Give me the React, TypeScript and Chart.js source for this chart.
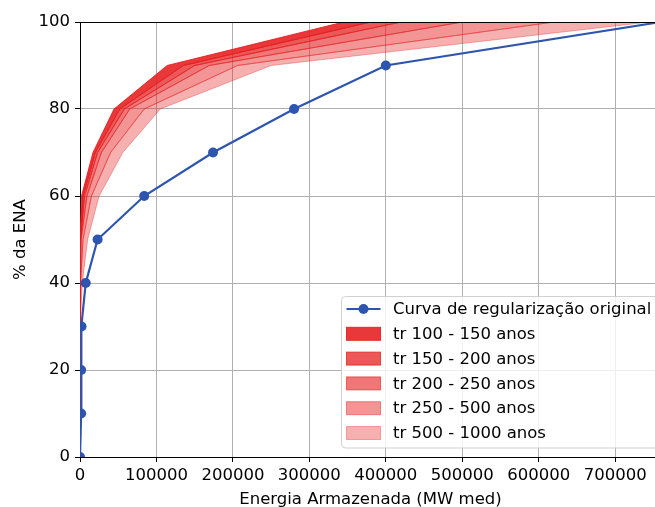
import React, { useEffect, useRef } from "react";
import { Chart, registerables } from "chart.js";

Chart.register(...registerables);

// % ENA levels (y) shared by every curve
const levels = [0, 10, 20, 30, 40, 50, 60, 70, 80, 90, 100];

// Energia armazenada (MW med) at each level
const originalCurveX = [0, 1500, 1500, 2000, 7500, 23000, 84000, 174000, 280000, 400000, 760000];
const tr100X = [0, 0, 0, 0, 0, 0, 2000, 17000, 44500, 114000, 345000];
const tr150X = [0, 0, 0, 0, 0, 500, 4000, 20000, 52000, 135000, 380000];
const tr200X = [0, 0, 0, 0, 0, 1000, 6000, 23000, 58000, 150000, 420000];
const tr250X = [0, 0, 0, 0, 0, 1500, 9000, 28000, 65000, 169000, 500000];
const tr500X = [0, 0, 0, 0, 1000, 4000, 15000, 40000, 84000, 206000, 620000];
const tr1000X = [0, 0, 0, 0, 3000, 10000, 25000, 56000, 105000, 250000, 745000];

const originalLabel = "Curva de regularização original";
const bandLabels = [
  "tr 100 - 150 anos",
  "tr 150 - 200 anos",
  "tr 200 - 250 anos",
  "tr 250 - 500 anos",
  "tr 500 - 1000 anos",
];
const bandCurves = [tr100X, tr150X, tr200X, tr250X, tr500X, tr1000X];
const bandAlphas = [0.88, 0.74, 0.6, 0.47, 0.35];

const xTickValues = [0, 100000, 200000, 300000, 400000, 500000, 600000, 700000];
const yTickValues = [0, 20, 40, 60, 80, 100];
const xMax = 760000;
const yMax = 100;
const xTitle = "Energia Armazenada (MW med)";
const yTitle = "% da ENA";

const BLUE = "rgb(45,85,175)";
const redA = (a: number) => `rgba(230,28,30,${a})`;
const FONT = "'DejaVu Sans', sans-serif";
const FS = 16.5;

const toPoints = (xs: number[]) => xs.map((x, i) => ({ x, y: levels[i] }));

const topSpine = {
  id: "topSpine",
  afterDatasetsDraw(chart: any) {
    const { ctx, chartArea } = chart;
    ctx.save();
    ctx.strokeStyle = "#000";
    ctx.lineWidth = 1;
    ctx.beginPath();
    ctx.moveTo(chartArea.left, chartArea.top + 0.5);
    ctx.lineTo(chartArea.right, chartArea.top + 0.5);
    ctx.stroke();
    ctx.restore();
  },
};

const boxLegend = {
  id: "boxLegend",
  afterDraw(chart: any) {
    const { ctx } = chart;
    const ds = chart.data.datasets;
    const x0 = 341.5;
    const y0 = 296.5;
    const w = 320;
    const h = 151.5;
    const r = 4;
    ctx.save();
    ctx.beginPath();
    ctx.moveTo(x0 + r, y0);
    ctx.lineTo(x0 + w - r, y0);
    ctx.quadraticCurveTo(x0 + w, y0, x0 + w, y0 + r);
    ctx.lineTo(x0 + w, y0 + h - r);
    ctx.quadraticCurveTo(x0 + w, y0 + h, x0 + w - r, y0 + h);
    ctx.lineTo(x0 + r, y0 + h);
    ctx.quadraticCurveTo(x0, y0 + h, x0, y0 + h - r);
    ctx.lineTo(x0, y0 + r);
    ctx.quadraticCurveTo(x0, y0, x0 + r, y0);
    ctx.closePath();
    ctx.fillStyle = "rgba(255,255,255,0.8)";
    ctx.fill();
    ctx.strokeStyle = "rgba(204,204,204,0.9)";
    ctx.lineWidth = 1;
    ctx.stroke();

    const rowY0 = 309;
    const rowGap = 24.8;
    const hx0 = 346.5;
    const hx1 = 380.5;
    const tx = 393;
    ctx.font = `${FS}px ${FONT}`;
    ctx.textBaseline = "middle";
    ctx.textAlign = "left";
    ds.forEach((d: any, i: number) => {
      const y = rowY0 + i * rowGap;
      if (i === 0) {
        ctx.strokeStyle = d.borderColor;
        ctx.lineWidth = 2.2;
        ctx.beginPath();
        ctx.moveTo(hx0, y);
        ctx.lineTo(hx1, y);
        ctx.stroke();
        ctx.fillStyle = d.pointBackgroundColor;
        ctx.beginPath();
        ctx.arc((hx0 + hx1) / 2, y, 5, 0, Math.PI * 2);
        ctx.fill();
      } else {
        ctx.fillStyle = d.backgroundColor;
        ctx.fillRect(hx0, y - 6.5, hx1 - hx0, 13);
        ctx.strokeStyle = d.borderColor;
        ctx.lineWidth = 1;
        ctx.strokeRect(hx0, y - 6.5, hx1 - hx0, 13);
      }
      ctx.fillStyle = "#000";
      ctx.fillText(d.label, tx, y + 1);
    });
    ctx.restore();
  },
};

export default function App() {
  const canvasRef = useRef<HTMLCanvasElement | null>(null);

  useEffect(() => {
    const canvas = canvasRef.current;
    if (!canvas) return;

    const bandDatasets = bandLabels.map((label, i) => {
      const upper = toPoints(bandCurves[i]);
      const lower = toPoints(bandCurves[i + 1]).reverse();
      return {
        label,
        data: [...upper, ...lower],
        showLine: true,
        fill: "shape",
        backgroundColor: redA(bandAlphas[i]),
        borderColor: redA(bandAlphas[i]),
        borderWidth: 1,
        pointRadius: 0,
        pointHoverRadius: 0,
        tension: 0,
        clip: 0,
        order: i + 1,
      };
    });

    const chart = new Chart(canvas, {
      type: "scatter",
      data: {
        datasets: [
          {
            label: originalLabel,
            data: toPoints(originalCurveX),
            showLine: true,
            borderColor: BLUE,
            backgroundColor: BLUE,
            pointBackgroundColor: BLUE,
            pointBorderColor: BLUE,
            pointRadius: 5,
            pointBorderWidth: 0,
            borderWidth: 2.2,
            tension: 0,
            clip: 0,
            order: 0,
          } as any,
          ...(bandDatasets as any[]),
        ],
      },
      options: {
        animation: false,
        responsive: false,
        devicePixelRatio: 1,
        layout: { padding: { top: 22, right: 0, bottom: 0, left: 0 } },
        plugins: {
          legend: { display: false },
          tooltip: { enabled: false },
        },
        scales: {
          x: {
            type: "linear",
            min: 0,
            max: xMax,
            afterFit: (s: any) => {
              s.height = 50;
              s.paddingRight = 0;
            },
            afterBuildTicks: (s: any) => {
              s.ticks = xTickValues.map((value) => ({ value }));
            },
            ticks: {
              color: "#000",
              padding: 4,
              maxRotation: 0,
              autoSkip: false,
              font: { family: FONT, size: FS },
              callback: (v: any) => String(v),
            },
            grid: {
              color: "#b0b0b0",
              lineWidth: 1,
              tickLength: 5,
              tickColor: "#000",
            },
            border: { color: "#000", width: 1 },
            title: {
              display: true,
              text: xTitle,
              color: "#000",
              font: { family: FONT, size: FS },
              padding: { top: 0, bottom: -3 },
            },
          },
          y: {
            type: "linear",
            min: 0,
            max: yMax,
            afterFit: (s: any) => {
              s.width = 80;
            },
            afterBuildTicks: (s: any) => {
              s.ticks = yTickValues.map((value) => ({ value }));
            },
            ticks: {
              color: "#000",
              padding: 5,
              font: { family: FONT, size: FS },
            },
            grid: {
              color: "#b0b0b0",
              lineWidth: 1,
              tickLength: 5,
              tickColor: "#000",
            },
            border: { color: "#000", width: 1 },
            title: {
              display: true,
              text: yTitle,
              color: "#000",
              font: { family: FONT, size: FS },
              padding: { top: 11, bottom: 0 },
            },
          },
        },
      } as any,
      plugins: [topSpine, boxLegend],
    });

    return () => chart.destroy();
  }, []);

  return (
    <div
      style={{
        position: "absolute",
        left: 0,
        top: 0,
        width: 655,
        height: 507,
        overflow: "hidden",
        background: "#fff",
      }}
    >
      <canvas ref={canvasRef} width={666} height={507} style={{ display: "block" }} />
    </div>
  );
}
